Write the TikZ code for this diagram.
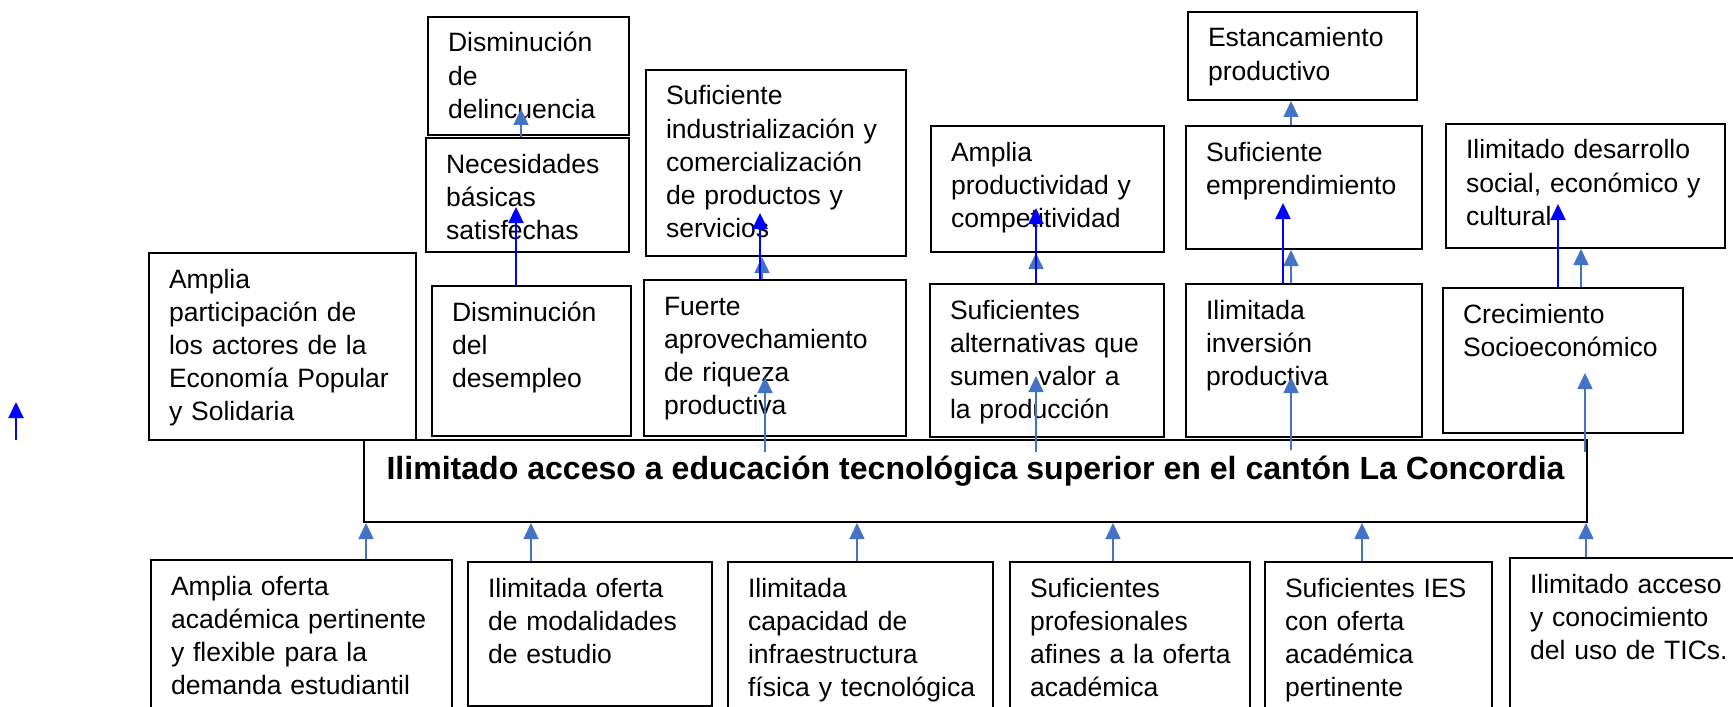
\documentclass[tikz,border=0pt]{standalone}
\usepackage{fontspec}
\setmainfont{Liberation Sans}
\usepackage{xcolor}
\usetikzlibrary{arrows.meta}
\definecolor{azulclaro}{HTML}{4472C4}

\begin{document}
\begin{tikzpicture}[x=0.2mm,y=-0.2mm,
    caja/.style={draw, line width=0.4mm, anchor=north west, inner xsep=4mm, inner ysep=0pt,
      align=left, text height=7mm, font=\fontsize{15.1}{18.8}\selectfont},
    oscura/.style={-{Triangle[width=3mm,length=3.2mm]}, blue, line width=0.45mm},
    clara/.style={-{Triangle[width=3mm,length=3.2mm]}, azulclaro, line width=0.3mm}]
        \useasboundingbox (0,0) rectangle (1733,707);
        \clip (0,0) rectangle (1733,707);
        % fila de arriba (fines)
        \node[caja, text width=32.2mm, text depth=16.6mm] (delinc) at (427,16) {Disminución\\de\\delincuencia};
        \node[caja, text width=32.6mm, text depth=15.8mm] (necesid) at (425,137) {Necesidades\\básicas\\satisfechas};
        \node[caja, text width=44mm, text depth=30.2mm] (industr) at (645,69) {Suficiente\\industrialización y\\comercialización\\de productos y\\servicios};
        \node[caja, text width=38.6mm, text depth=18.2mm] (producti) at (930,125) {Amplia\\productividad y\\competitividad};
        \node[caja, text width=37.8mm, text depth=10.6mm] (estanca) at (1187,11) {Estancamiento\\productivo};
        \node[caja, text width=39.2mm, text depth=17.6mm] (emprend) at (1185,125) {Suficiente\\emprendimiento};
        \node[caja, text width=47.8mm, text depth=17.8mm] (desarro) at (1445,123) {Ilimitado desarrollo\\social, económico y\\cultural};
        % fila del medio
        \node[caja, text width=45.4mm, text depth=30.4mm] (actores) at (148,252) {Amplia\\participación de\\los actores de la\\Economía Popular\\y Solidaria};
        \node[caja, text width=31.8mm, text depth=23mm] (desemp) at (431,285) {Disminución\\del\\desempleo};
        \node[caja, text width=44.4mm, text depth=24.2mm] (riqueza) at (643,279) {Fuerte\\aprovechamiento\\de riqueza\\productiva};
        \node[caja, text width=38.8mm, text depth=23.6mm] (alterna) at (929,283) {Suficientes\\\mbox{alternativas que}\\sumen valor a\\la producción};
        \node[caja, text width=39.2mm, text depth=23.6mm] (inversion) at (1185,283) {Ilimitada\\inversión\\productiva};
        \node[caja, text width=40mm, text depth=22mm] (crecim) at (1442,287) {Crecimiento\\\mbox{Socioeconómico}};
        % problema central
        \node[caja, minimum width=244.6mm, text height=7.8mm, text depth=8.6mm,
          font=\bfseries\fontsize{18.25}{22}\selectfont] (central) at (363,439) {Ilimitado acceso a educación tecnológica superior en el cantón La Concordia};
        % fila de abajo (medios)
        \node[caja, text width=52.2mm, text depth=27.2mm] (oferta) at (150,559) {Amplia oferta\\\mbox{académica pertinente}\\y flexible para la\\demanda estudiantil};
        \node[caja, text width=40.8mm, text depth=21.8mm] (modal) at (467,561) {Ilimitada oferta\\de modalidades\\de estudio};
        \node[caja, text width=45mm, text depth=26.8mm] (infra) at (727,561) {Ilimitada\\capacidad de\\infraestructura\\\mbox{física y tecnológica}};
        \node[caja, text width=40mm, text depth=26.8mm] (profes) at (1009,561) {Suficientes\\profesionales\\\mbox{afines a la oferta}\\académica};
        \node[caja, text width=37.4mm, text depth=26.8mm] (ies) at (1264,561) {Suficientes IES\\con oferta\\académica\\pertinente};
        \node[caja, text width=42.2mm, text depth=27.6mm] (tics) at (1509,557) {Ilimitado acceso\\y conocimiento\\del uso de TICs.};
        % puntas sueltas
        \coordinate (suelta1) at (16,440);
        \coordinate (suelta2) at (16,402);
        \coordinate (p-delinc) at (521,109);
        \coordinate (p-necesid) at (516,207);
        \coordinate (p-industr) at (760,213);
        \coordinate (p-producti) at (1036,208);
        \coordinate (p-emprend) at (1283,203);
        \coordinate (p-desarro) at (1558,204);
        \coordinate (s-riqueza) at (765,452);
        \coordinate (p-riqueza) at (765,377);
        \coordinate (s-alterna) at (1036,452);
        \coordinate (p-alterna) at (1036,376);
        \coordinate (s-inversion) at (1291,450);
        \coordinate (p-inversion) at (1291,377);
        \coordinate (s-crecim) at (1585,452);
        \coordinate (p-crecim) at (1585,373);
        % flechas claras
        \draw[clara] (necesid.north -| p-delinc) -- (p-delinc);
        \draw[clara] (riqueza.north -| 762,0) -- (industr.south -| 762,0);
        \draw[clara] (alterna.north -| 1036,0) -- (producti.south -| 1036,0);
        \draw[clara] (inversion.north -| 1291,0) -- (emprend.south -| 1291,0);
        \draw[clara] (emprend.north -| 1291,0) -- (estanca.south -| 1291,0);
        \draw[clara] (crecim.north -| 1581,0) -- (desarro.south -| 1581,0);
        \draw[clara] (s-riqueza) -- (p-riqueza);
        \draw[clara] (s-alterna) -- (p-alterna);
        \draw[clara] (s-inversion) -- (p-inversion);
        \draw[clara] (s-crecim) -- (p-crecim);
        \draw[clara] (oferta.north -| 366,0) -- (central.south -| 366,0);
        \draw[clara] (modal.north -| 531,0) -- (central.south -| 531,0);
        \draw[clara] (infra.north -| 857,0) -- (central.south -| 857,0);
        \draw[clara] (profes.north -| 1113,0) -- (central.south -| 1113,0);
        \draw[clara] (ies.north -| 1362,0) -- (central.south -| 1362,0);
        \draw[clara] (tics.north -| 1586,0) -- (central.south -| 1586,0);
        % flechas oscuras
        \draw[oscura] (suelta1) -- (suelta2);
        \draw[oscura] (desemp.north -| p-necesid) -- (p-necesid);
        \draw[oscura] (riqueza.north -| p-industr) -- (p-industr);
        \draw[oscura] (alterna.north -| p-producti) -- (p-producti);
        \draw[oscura] (inversion.north -| p-emprend) -- (p-emprend);
        \draw[oscura] (crecim.north -| p-desarro) -- (p-desarro);
\end{tikzpicture}
\end{document}
